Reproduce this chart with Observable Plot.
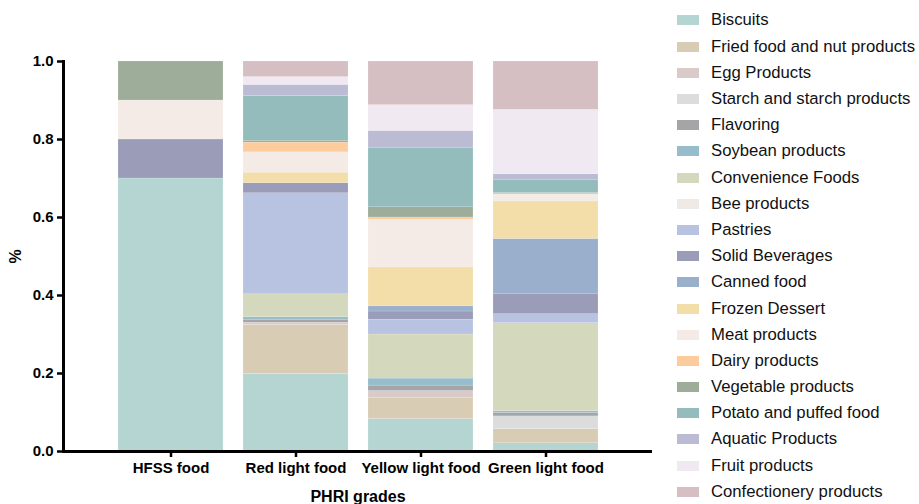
<!DOCTYPE html>
<html>
<head>
<meta charset="utf-8">
<script src="https://cdn.jsdelivr.net/npm/d3@7"></script>
<script src="https://cdn.jsdelivr.net/npm/@observablehq/plot@0.6"></script>
<style>
  html, body { margin: 0; padding: 0; background: #fff; }
  #wrap { position: relative; width: 919px; height: 504px; overflow: hidden; font-family: "Liberation Sans", Arial, sans-serif; }
  #legend { position: absolute; left: 677px; top: 7.4px; }
  .row { display: flex; align-items: center; height: 26.2px; }
  .sw { width: 22px; height: 10px; margin-right: 12px; flex: none; }
  .lb { font-size: 16.7px; color: #111; white-space: nowrap; }
</style>
</head>
<body>
<div id="wrap"></div>
<script>
const categories = [
  "Biscuits", "Fried food and nut products", "Egg Products", "Starch and starch products",
  "Flavoring", "Soybean products", "Convenience Foods", "Bee products", "Pastries",
  "Solid Beverages", "Canned food", "Frozen Dessert", "Meat products", "Dairy products",
  "Vegetable products", "Potato and puffed food", "Aquatic Products", "Fruit products",
  "Confectionery products"
];
const colors = [
  "#b5d5d3", "#d9ccb4", "#dacbca", "#dcdcdc", "#a5a5a7", "#97bdcc", "#d4d8bc",
  "#efeae6", "#b7c3e1", "#9a9cb8", "#9aafcb", "#f3dda9", "#f4ebe6", "#fdcc9c",
  "#9dad9a", "#95bcbd", "#bbbcd4", "#f0e9f1", "#d6bfc3"
];
const grades = ["HFSS food", "Red light food", "Yellow light food", "Green light food"];
const hfssValues   = [0.700, 0, 0, 0, 0, 0, 0, 0, 0, 0.100, 0, 0, 0.100, 0, 0.100, 0, 0, 0, 0];
const redValues    = [0.199, 0.125, 0.006, 0, 0.008, 0.006, 0.059, 0, 0.259, 0.026, 0, 0.027, 0.052, 0.025, 0.005, 0.114, 0.029, 0.020, 0.040];
const yellowValues = [0.083, 0.055, 0.017, 0, 0.014, 0.018, 0.113, 0, 0.038, 0.021, 0.013, 0.100, 0.122, 0.006, 0.026, 0.153, 0.043, 0.066, 0.112];
const greenValues  = [0.021, 0.036, 0, 0.033, 0.008, 0.005, 0.226, 0, 0.023, 0.051, 0.142, 0.096, 0.019, 0, 0.003, 0.034, 0.014, 0.165, 0.124];
const yTicks = [0, 0.2, 0.4, 0.6, 0.8, 1.0];

const series = [hfssValues, redValues, yellowValues, greenValues];
const data = [];
grades.forEach((g, gi) => {
  categories.forEach((c, ci) => {
    data.push({grade: g, category: c, value: series[gi][ci]});
  });
});

const plot = Plot.plot({
  width: 919,
  height: 504,
  marginLeft: 63,
  marginRight: 267,
  marginTop: 61,
  marginBottom: 53,
  style: {fontFamily: "'Liberation Sans', Arial, sans-serif", fontWeight: "bold", color: "#000", background: "transparent"},
  x: {domain: grades, paddingInner: 0.163, paddingOuter: 0.428},
  y: {domain: [0, 1]},
  color: {domain: categories, range: colors},
  marks: [
    Plot.barY(data, {x: "grade", y: "value", fill: "category", stroke: "#fff", strokeWidth: 0.3, strokeOpacity: 0.5}),
    Plot.axisY({ticks: yTicks, tickFormat: d3.format(".1f"), tickSize: 6, tickPadding: 4, strokeWidth: 2.5, fontSize: 15, label: null}),
    Plot.axisY({ticks: [], tickSize: 0, label: "%", labelAnchor: "center", labelArrow: "none", labelOffset: 54, fontSize: 16}),
    Plot.axisX({tickSize: 6, tickPadding: 5, strokeWidth: 2.5, fontSize: 15, label: null}),
    Plot.axisX({ticks: [], tickSize: 0, label: "PHRI grades", labelAnchor: "center", labelArrow: "none", labelOffset: 50, fontSize: 16}),
    Plot.frame({anchor: "left", stroke: "#000", strokeWidth: 3}),
    Plot.ruleY([0], {stroke: "#000", strokeWidth: 3})
  ]
});

const wrap = document.getElementById("wrap");
wrap.appendChild(plot);

const legend = document.createElement("div");
legend.id = "legend";
categories.forEach((c, i) => {
  const row = document.createElement("div");
  row.className = "row";
  const sw = document.createElement("div");
  sw.className = "sw";
  sw.style.background = colors[i];
  const lb = document.createElement("span");
  lb.className = "lb";
  lb.textContent = c;
  row.appendChild(sw);
  row.appendChild(lb);
  legend.appendChild(row);
});
wrap.appendChild(legend);
</script>
</body>
</html>
